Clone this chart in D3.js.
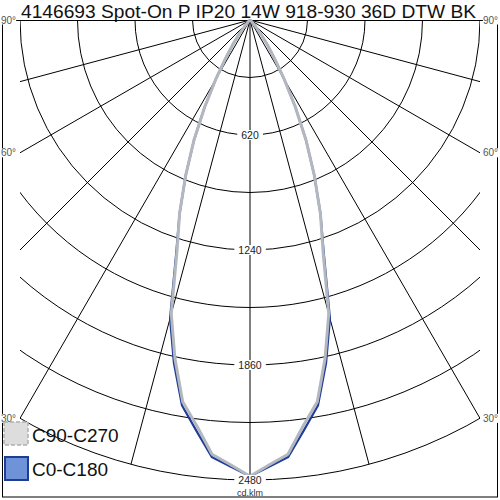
<!DOCTYPE html>
<html>
<head>
<meta charset="utf-8">
<script src="https://cdn.jsdelivr.net/npm/d3@7"></script>
<style>
  body { margin: 0; background: #fff; }
  svg { font-family: "Liberation Sans", Arial, sans-serif; }
</style>
</head>
<body>
<div id="chart"></div>
<script>
// chart data
var title = "4146693 Spot-On P IP20 14W 918-930 36D DTW BK";
var gammas = [0, 2.5, 5, 7.5, 10, 12.5, 15, 17.5, 20, 22.5, 25, 27.5, 30, 32.5, 35, 37.5, 40, 45, 50, 60, 70, 80, 90];
var c90c270 = [2460, 2400, 2350, 2205, 2090, 1870, 1640, 1310, 1110, 905, 715, 530, 370, 245, 160, 100, 55, 15, 0, 0, 0, 0, 0];
var c0c180 = [2460, 2410, 2365, 2230, 2110, 1895, 1665, 1325, 1110, 905, 715, 530, 370, 245, 160, 100, 55, 15, 0, 0, 0, 0, 0];
var rings = [310, 620, 930, 1240, 1550, 1860, 2170, 2480];
var ringLabels = [620, 1240, 1860, 2480];
var spokes = [-90, -75, -60, -45, -30, -15, 0, 15, 30, 45, 60, 75, 90];
var angleLabels = [90, 60, 30];
var legendNames = ["C90-C270", "C0-C180"];

var W = 500, H = 500;
var cx = 250, cy = 20;
var left = 20, right = 480, bottom = 497;

var svg = d3.select("#chart").append("svg")
    .attr("width", W)
    .attr("height", H);

var r = d3.scaleLinear().domain([0, 2480]).range([0, 460]);

// title
svg.append("text")
    .attr("x", 21)
    .attr("y", 17.5)
    .style("font-size", "19.2px")
    .attr("fill", "#111")
    .text(title);

// frame
svg.append("rect")
    .attr("x", 2.5).attr("y", 20.5)
    .attr("width", 495).attr("height", 476.5)
    .attr("fill", "none")
    .attr("stroke", "#000")
    .attr("stroke-width", 1);

svg.append("defs").append("clipPath")
    .attr("id", "clip")
    .append("rect")
    .attr("x", left).attr("y", cy)
    .attr("width", right - left).attr("height", bottom - cy);

var plot = svg.append("g")
    .attr("transform", "translate(" + cx + "," + cy + ")");

var grid = plot.append("g").attr("clip-path", "url(#clip)")
    .attr("transform", "translate(" + (-cx) + "," + (-cy) + ")")
    .append("g")
    .attr("transform", "translate(" + cx + "," + cy + ")");

grid.selectAll("circle.ring")
    .data(rings)
    .enter()
    .append("circle")
    .attr("class", "ring")
    .attr("r", function(d) { return r(d) })
    .attr("fill", "none")
    .attr("stroke", "#000")
    .attr("stroke-width", 1);

grid.selectAll("line.spoke")
    .data(spokes)
    .enter()
    .append("line")
    .attr("class", "spoke")
    .attr("x1", 0).attr("y1", 0)
    .attr("x2", function(d) { return r(2480) * Math.sin(d * Math.PI / 180) })
    .attr("y2", function(d) { return r(2480) * Math.cos(d * Math.PI / 180) })
    .attr("stroke", "#000")
    .attr("stroke-width", 1);

// curves
function curvePoints(vals) {
    var pts = [];
    for (var i = gammas.length - 1; i > 0; i--) {
        pts.push([Math.PI + gammas[i] * Math.PI / 180, r(vals[i])]);
    }
    for (var j = 0; j < gammas.length; j++) {
        pts.push([Math.PI - gammas[j] * Math.PI / 180, r(vals[j])]);
    }
    return pts;
}

var radial = d3.lineRadial()
    .angle(function(d) { return d[0] })
    .radius(function(d) { return d[1] });

plot.append("path")
    .attr("d", radial(curvePoints(c0c180)))
    .attr("fill", "none")
    .attr("stroke", "#1f3c96")
    .attr("stroke-width", 2.2)
    .attr("stroke-linejoin", "round");

plot.append("path")
    .attr("d", radial(curvePoints(c90c270)))
    .attr("fill", "none")
    .attr("stroke", "#b3b7bf")
    .attr("stroke-width", 3)
    .attr("stroke-linejoin", "round");

// ring labels
ringLabels.forEach(function(v) {
    var g = plot.append("g").attr("transform", "translate(0," + r(v) + ")");
    var t = g.append("text")
        .attr("text-anchor", "middle")
        .attr("dy", "0.35em")
        .style("font-size", "10.5px")
        .attr("fill", "#222")
        .text(v);
    var bb = t.node().getBBox();
    g.insert("rect", "text")
        .attr("x", bb.x - 4).attr("y", -5)
        .attr("width", bb.width + 8).attr("height", 10)
        .attr("fill", "#fff");
});

plot.append("text")
    .attr("x", 0)
    .attr("y", r(2480) + 13)
    .attr("dy", "0.35em")
    .attr("text-anchor", "middle")
    .style("font-size", "9px")
    .attr("fill", "#333")
    .text("cd.klm");

// angle labels
var half = right - cx;
angleLabels.forEach(function(a) {
    var y = cy + half / Math.tan(a * Math.PI / 180);
    [["start", 1], ["end", 498]].forEach(function(p) {
        var g = svg.append("g");
        var t = g.append("text")
            .attr("x", p[1])
            .attr("y", y)
            .attr("dy", "0.35em")
            .attr("text-anchor", p[0])
            .style("font-size", "10px")
            .attr("fill", "#555")
            .text(a + "°");
        var bb = t.node().getBBox();
        g.insert("rect", "text")
            .attr("x", bb.x).attr("y", bb.y + 1)
            .attr("width", bb.width).attr("height", bb.height - 2)
            .attr("fill", "#fff");
    });
});

// legend
var legend = svg.append("g");
legend.append("rect")
    .attr("x", 4).attr("y", 422)
    .attr("width", 24).attr("height", 23)
    .attr("fill", "#d9d9d9")
    .attr("fill-opacity", 0.9)
    .attr("stroke", "#b0b0b0")
    .attr("stroke-width", 1.5)
    .attr("stroke-dasharray", "4,2");
legend.append("rect")
    .attr("x", 5).attr("y", 457)
    .attr("width", 23).attr("height", 23)
    .attr("fill", "#6f93d8")
    .attr("stroke", "#1f3c96")
    .attr("stroke-width", 2);
legendNames.forEach(function(n, i) {
    legend.append("text")
        .attr("x", 32)
        .attr("y", 442 + i * 34)
        .style("font-size", "19px")
        .attr("fill", "#111")
        .text(n);
});
</script>
</body>
</html>
